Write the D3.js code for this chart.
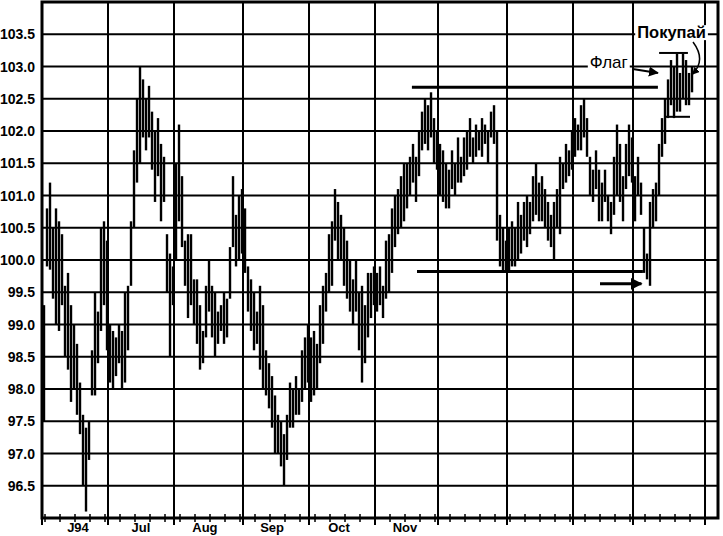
<!DOCTYPE html>
<html><head><meta charset="utf-8">
<script src="https://cdn.jsdelivr.net/npm/d3@7"></script>
<style>body{margin:0;background:#fff}svg{display:block}</style>
</head><body><svg id="c" width="723" height="536"></svg>
<script>
// ---- data ----
const yTicks = [96.5,97.0,97.5,98.0,98.5,99.0,99.5,100.0,100.5,101.0,101.5,102.0,102.5,103.0,103.5];
const monthStarts = [0,22,44,67,89,111,132,155,177,197,221];
const monthLabels = ["J94","Jul","Aug","Sep","Oct","Nov"];
const monthLabelDays = [12,33,54.3,76.7,99,121];
const highs = [
 99.3,100.8,101.2,100.5,100.8,100.6,100.4,99.6,99.8,99.3,99.0,98.7,98.1,97.6,97.4,97.5,98.6,99.5,99.2,100.5,100.6,100.3,99.0,98.9,98.8,99.0,98.9,99.5,99.6,
 100.6,101.7,102.5,103.0,102.8,102.5,102.7,102.3,102.0,102.2,101.8,101.6,100.4,100.1,99.9,
 101.5,102.1,101.3,100.3,100.4,100.4,99.7,99.7,99.3,98.9,99.6,100.0,99.6,99.5,99.2,99.3,99.5,99.4,100.2,101.3,100.7,101.0,101.1,
 100.8,99.9,99.7,99.5,99.2,99.6,99.3,98.6,98.4,98.2,97.9,97.6,97.5,97.3,97.6,98.1,98.0,98.2,98.0,98.6,98.8,99.0,
 98.8,98.9,98.7,99.3,99.6,99.8,100.4,100.6,101.1,100.9,100.7,100.5,100.3,100.0,99.7,100.0,99.5,99.6,99.3,99.8,99.8,
 99.9,99.8,99.9,99.6,100.3,100.4,100.8,101.0,101.1,101.3,101.5,101.5,101.6,101.8,101.6,102.0,102.3,102.5,102.4,102.6,102.2,102.0,
 101.8,101.7,101.5,101.4,101.7,101.5,101.9,101.6,101.9,102.0,102.2,101.9,102.1,102.0,102.2,102.1,102.0,102.3,102.4,102.0,100.7,100.5,
 100.3,100.5,100.6,100.5,100.9,100.7,100.9,101.0,100.9,101.3,101.5,101.2,101.3,101.1,100.9,100.7,100.9,101.1,101.6,101.5,101.8,101.7,102.0,
 102.2,102.1,102.4,102.5,102.2,101.6,101.4,101.7,101.4,101.2,101.4,101.0,100.9,101.6,102.1,101.8,101.3,101.8,102.1,101.9,
 101.3,101.6,101.2,100.5,100.1,100.9,101.1,101.2,101.8,102.2,102.5,102.8,103.1,103.0,103.2,102.9,103.2,103.1,102.9,103.0
];
const lows = [
 97.5,99.9,99.85,99.4,99.0,98.9,99.3,98.5,98.3,97.8,98.0,97.6,97.3,96.5,96.1,96.9,97.9,97.9,98.4,98.9,99.3,98.6,98.1,98.0,98.2,98.4,98.0,98.1,98.6,
 99.6,100.5,101.2,101.5,101.9,101.7,101.9,101.4,100.9,101.3,100.6,100.9,99.5,98.5,99.3,
 100.0,100.6,100.2,99.6,99.1,99.3,99.0,98.7,98.3,98.4,98.8,99.2,98.8,98.5,98.7,98.9,98.7,98.8,99.4,100.2,99.9,100.0,100.1,
 99.8,99.2,98.9,98.6,98.7,98.3,98.0,97.9,97.7,97.4,97.0,97.0,96.8,96.5,96.9,97.4,97.4,97.6,97.6,97.8,98.0,98.1,
 97.8,97.9,98.0,98.4,98.7,99.2,99.5,99.6,100.3,100.0,100.0,99.6,99.4,99.2,99.0,99.2,98.6,98.1,98.4,98.8,99.1,
 99.3,99.2,99.3,99.1,99.4,99.5,99.8,100.2,100.4,100.5,100.6,100.8,101.0,101.2,100.9,101.3,101.7,101.8,101.7,101.9,101.5,101.4,
 101.0,100.9,100.8,100.8,101.1,101.0,101.2,101.2,101.3,101.4,101.6,101.5,101.6,101.7,101.6,101.8,101.5,101.9,101.8,100.3,99.9,99.8,
 99.8,99.8,99.9,99.9,100.0,100.1,100.3,100.2,100.4,100.6,100.7,100.6,100.6,100.5,100.3,100.2,100.0,100.5,100.4,101.1,101.2,101.3,101.4,
 101.6,101.7,101.7,101.9,101.6,101.0,100.9,101.1,100.6,100.6,100.9,100.6,100.4,100.7,101.0,100.9,100.6,101.1,101.3,101.2,
 100.6,101.0,100.7,99.8,99.7,99.6,100.5,100.6,101.0,101.6,101.8,102.2,102.4,102.2,102.3,102.3,102.5,102.4,102.4,102.6
];
// annotation levels (price, from-day, to-day)
const resistance = {price:102.68, from:123.3, to:205.3};
const support = {price:99.82, from:125, to:200.3};
const breakoutArrow = {price:99.63, from:186, to:199.8};
const flagTop = {price:103.21, from:205.7, to:215.3};
const flagBottom = {price:102.22, from:207.7, to:216};

// ---- chart ----
const svg = d3.select("#c");
const L = 42, R = 718, T = 2, B = 518;
const x = d3.scaleLinear().domain([0, 225.33]).range([L, R]);
const y = d3.scaleLinear().domain([96, 104]).range([B, T]);
const FONT = "Liberation Sans, Arial, sans-serif";

// grid
svg.append("g").selectAll("line").data(yTicks).join("line")
  .attr("x1", L).attr("x2", R).attr("y1", d => y(d)).attr("y2", d => y(d))
  .attr("stroke", "#000").attr("stroke-width", 2);
svg.append("g").selectAll("line").data(monthStarts.slice(1)).join("line")
  .attr("x1", d => x(d)).attr("x2", d => x(d)).attr("y1", T).attr("y2", B)
  .attr("stroke", "#000").attr("stroke-width", 2);

// y-axis labels
svg.append("g").selectAll("text").data(yTicks).join("text")
  .attr("x", 35).attr("y", d => y(d)).attr("dy", "0.36em")
  .attr("text-anchor", "end")
  .attr("font-family", FONT)
  .attr("font-weight", "bold").attr("font-size", 14)
  .text(d => d.toFixed(1));

// x-axis ticks (weekly) and month labels
const weekTicks = d3.range(1, 225, 5);
svg.append("g").selectAll("line").data(weekTicks).join("line")
  .attr("x1", d => x(d)).attr("x2", d => x(d)).attr("y1", B - 4).attr("y2", B + 4)
  .attr("stroke", "#000").attr("stroke-width", 1.5);
svg.append("g").selectAll("line").data(monthStarts).join("line")
  .attr("x1", d => x(d)).attr("x2", d => x(d)).attr("y1", B).attr("y2", B + 7)
  .attr("stroke", "#000").attr("stroke-width", 2);
svg.append("g").selectAll("text").data(monthLabels).join("text")
  .attr("x", (d, i) => x(monthLabelDays[i]))
  .attr("y", 532).attr("text-anchor", "middle")
  .attr("font-family", FONT)
  .attr("font-weight", "bold").attr("font-size", 13)
  .text(d => d);

// frame
svg.append("rect").attr("x", L).attr("y", T).attr("width", R - L).attr("height", B - T)
  .attr("fill", "none").attr("stroke", "#000").attr("stroke-width", 3);

// bars
const bars = highs.map((h, i) => ({day: i + 0.67, hi: h, lo: lows[i]}));
svg.append("g").selectAll("line").data(bars).join("line")
  .attr("x1", d => x(d.day)).attr("x2", d => x(d.day))
  .attr("y1", d => y(d.hi)).attr("y2", d => y(d.lo))
  .attr("stroke", "#000").attr("stroke-width", 2.4);

// annotation lines
[resistance, support, flagTop, flagBottom].forEach((a, i) => {
  svg.append("line").attr("x1", x(a.from)).attr("x2", x(a.to))
    .attr("y1", y(a.price)).attr("y2", y(a.price))
    .attr("stroke", "#000").attr("stroke-width", i < 2 ? 3 : 2);
});

const defs = svg.append("defs");
defs.append("marker").attr("id", "ah").attr("viewBox", "0 0 10 10")
  .attr("refX", 9).attr("refY", 5).attr("markerWidth", 4).attr("markerHeight", 4)
  .attr("orient", "auto").attr("markerUnits", "strokeWidth")
  .append("path").attr("d", "M0,0L10,5L0,10z").attr("fill", "#000");
defs.append("marker").attr("id", "ah2").attr("viewBox", "0 0 10 10")
  .attr("refX", 9).attr("refY", 5).attr("markerWidth", 5).attr("markerHeight", 5)
  .attr("orient", "auto").attr("markerUnits", "strokeWidth")
  .append("path").attr("d", "M0,0L10,5L0,10z").attr("fill", "#000");

svg.append("line").attr("x1", x(breakoutArrow.from)).attr("x2", x(breakoutArrow.to))
  .attr("y1", y(breakoutArrow.price)).attr("y2", y(breakoutArrow.price))
  .attr("stroke", "#000").attr("stroke-width", 3).attr("marker-end", "url(#ah)");

// text labels with white background
function label(txt, day, price, weight, size) {
  const t = svg.append("text").attr("x", x(day)).attr("y", y(price))
    .attr("font-family", FONT)
    .attr("font-weight", weight).attr("font-size", size).text(txt);
  const bb = t.node().getBBox();
  svg.insert("rect", () => t.node()).attr("x", bb.x - 2).attr("y", bb.y + 2)
    .attr("width", bb.width + 4).attr("height", bb.height - 3).attr("fill", "#fff");
  return bb;
}
label("Покупай", 198.4, 103.44, "bold", 16.5);
label("Флаг", 182.6, 102.97, "normal", 17);

svg.append("line").attr("x1", x(196.9)).attr("x2", x(205.3))
  .attr("y1", y(102.96)).attr("y2", y(102.9))
  .attr("stroke", "#000").attr("stroke-width", 2).attr("marker-end", "url(#ah2)");
svg.append("path")
  .attr("d", `M${x(217)},${y(103.38)} Q${x(221.5)},${y(103.1)} ${x(216.8)},${y(102.88)}`)
  .attr("fill", "none").attr("stroke", "#000").attr("stroke-width", 1.5)
  .attr("marker-end", "url(#ah2)");
</script></body></html>
